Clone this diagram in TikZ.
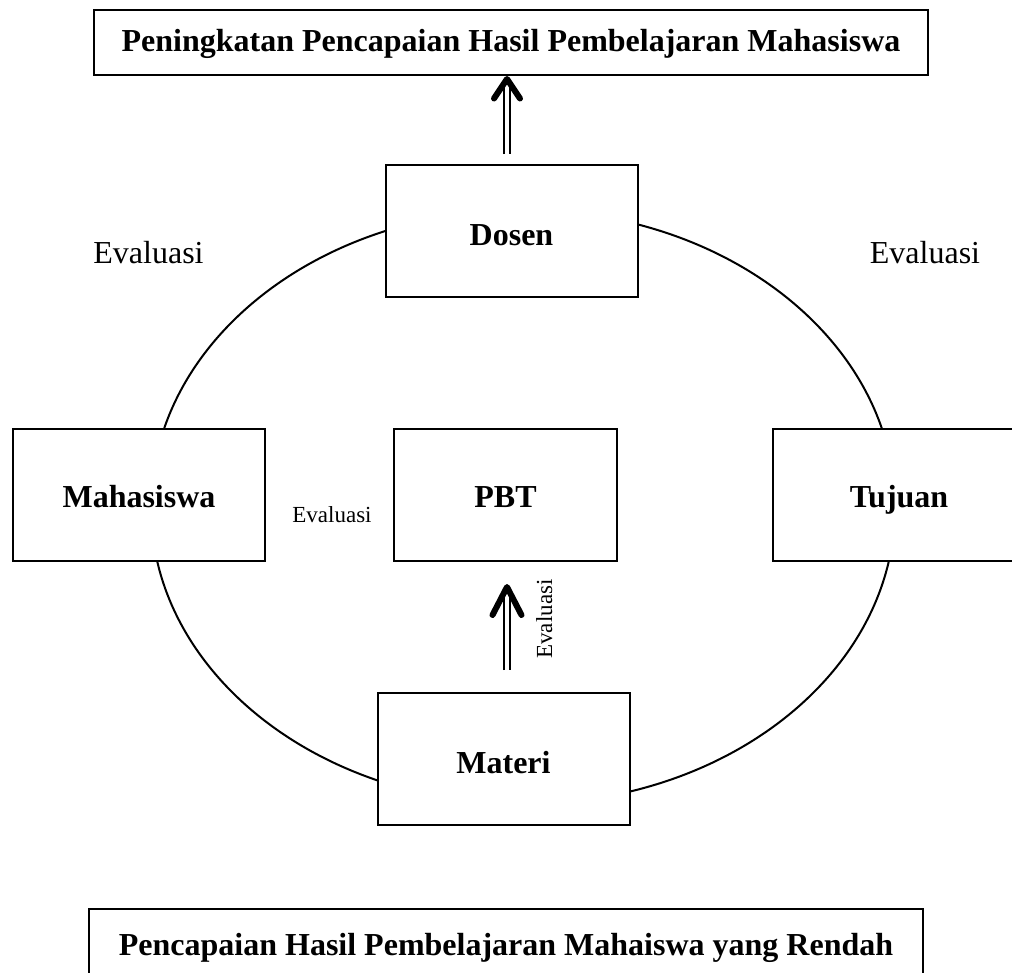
\documentclass[tikz,border=0pt]{standalone}
\usepackage{fontspec}
\setmainfont{Liberation Serif}
\usetikzlibrary{calc}
\begin{document}
\begin{tikzpicture}[x=1pt,y=-1pt,
  box/.style={draw, line width=2pt, fill=white, inner sep=0pt, minimum width=252pt, minimum height=132pt,
    font=\fontsize{32}{38}\selectfont\bfseries, text height=25pt, text depth=0pt},
  lbl/.style={font=\fontsize{32}{38}\selectfont, anchor=base, inner sep=0pt},
  slbl/.style={font=\fontsize{23}{28}\selectfont, anchor=base, inner sep=0pt},
  ring/.style={line width=2pt},
  dbl/.style={double, double distance=4pt, line width=2pt},
  chev/.style={line width=6pt, line cap=round, line join=round}]
\clip (0,0) rectangle (1012,972);
\fill[white] (0,0) rectangle (1012,972);
\draw[ring] (523,507) ellipse [x radius=372, y radius=297];
\node[box, text height=29pt] (dosen) at (511.5,231) {Dosen};
\node[box] (mhs) at (139,495) {Mahasiswa};
\node[box, minimum width=223pt] (pbt) at (505.5,495) {PBT};
\node[box] (tujuan) at (899,495) {Tujuan};
\node[box, text height=29pt] (materi) at (503.5,759) {Materi};
\node[box, minimum width=834pt, minimum height=65pt, text height=21pt, text depth=4pt] (top) at (511,42.5)
  {Peningkatan Pencapaian Hasil Pembelajaran Mahasiswa};
\node[box, minimum width=834pt, minimum height=72pt, text height=21pt, text depth=0pt] (bottom) at (506,944.5)
  {Pencapaian Hasil Pembelajaran Mahaiswa yang Rendah};
\node[lbl] (ev1) at (148.5,263) {Evaluasi};
\node[lbl] (ev2) at (925,263) {Evaluasi};
\node[slbl] (ev3) at (332,522) {Evaluasi};
\node[slbl, rotate=90] (ev4) at (552,619) {Evaluasi};
\coordinate (ax) at (507,0);
\draw[dbl] ($(dosen.north -| ax)+(0,-10)$) -- ($(top.south -| ax)+(0,6)$);
\draw[chev] ($(top.south -| ax)+(-13,22.5)$) -- ($(top.south -| ax)+(0,3)$) -- ($(top.south -| ax)+(13,22.5)$);
\draw[dbl] ($(materi.north -| ax)+(0,-22)$) -- ($(pbt.south -| ax)+(0,30)$);
\draw[chev] ($(pbt.south -| ax)+(-14.5,53)$) -- ($(pbt.south -| ax)+(0,25)$) -- ($(pbt.south -| ax)+(14.5,53)$);
\end{tikzpicture}
\end{document}
